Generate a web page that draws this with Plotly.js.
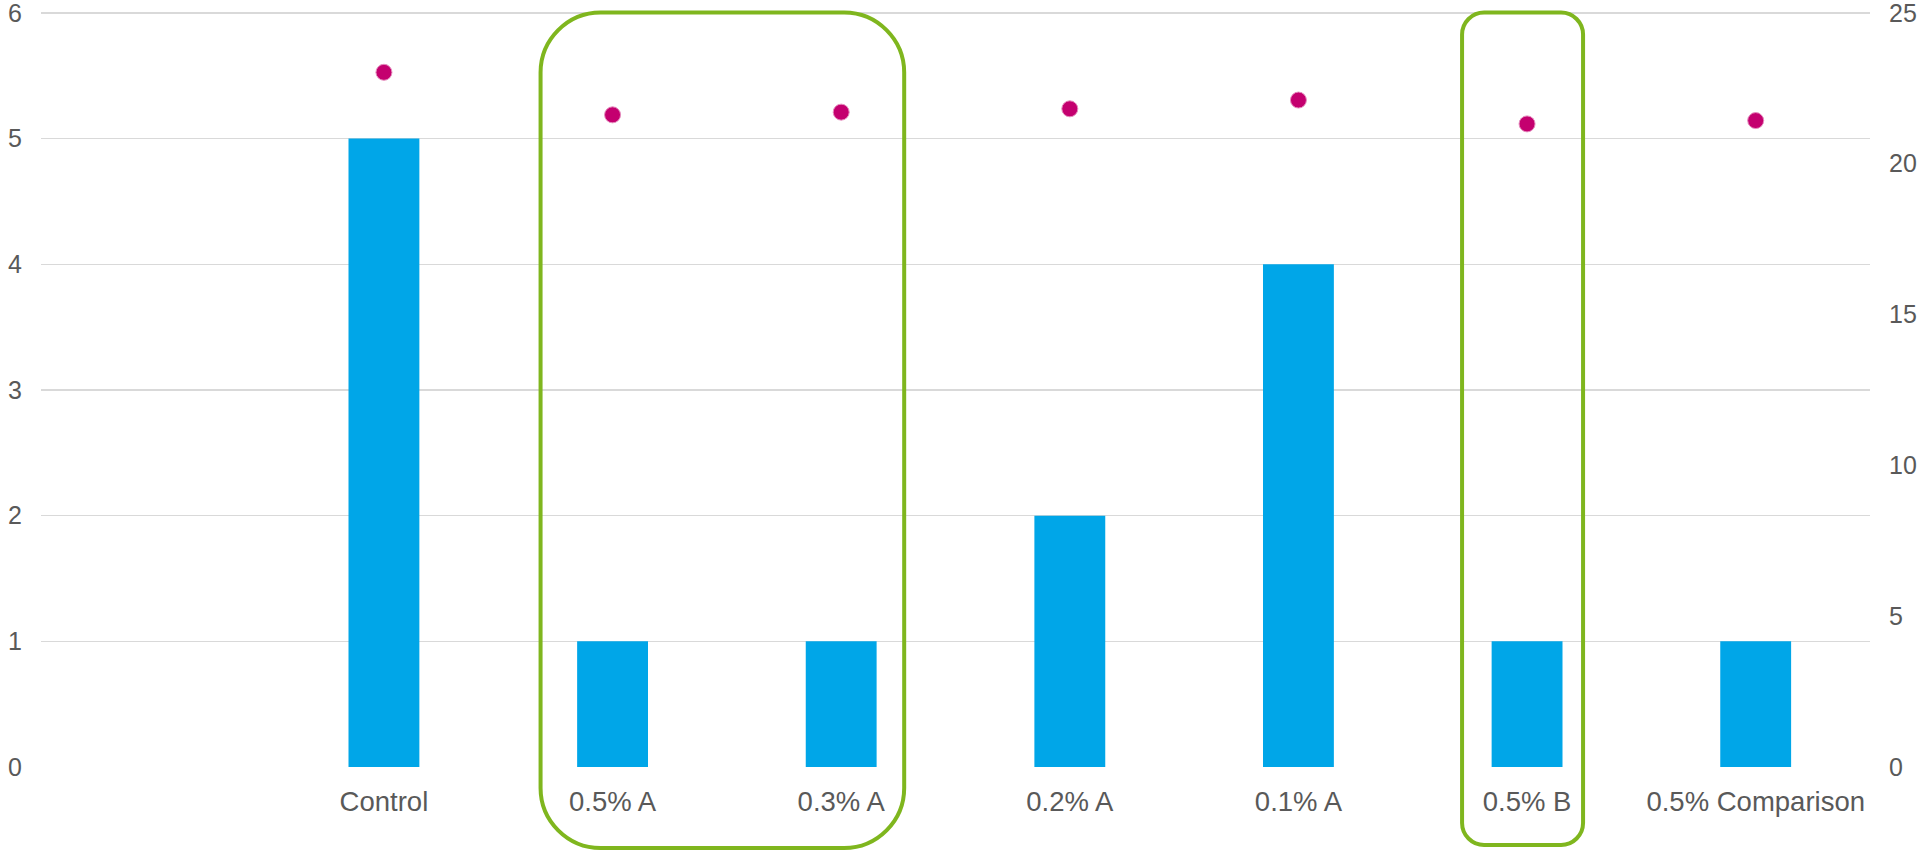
<!DOCTYPE html>
<html>
<head>
<meta charset="utf-8">
<script src="https://cdn.plot.ly/plotly-3.0.1.min.js"></script>
<style>
html,body{margin:0;padding:0;background:#fff;}
#chart{width:1921px;height:851px;}
</style>
</head>
<body>
<div id="chart"></div>
<script>
// ---- data ----
const categories = ['Control', '0.5% A', '0.3% A', '0.2% A', '0.1% A', '0.5% B', '0.5% Comparison'];
const barValues = [5, 1, 1, 2, 4, 1, 1];
const dotValues = [23.03, 21.62, 21.71, 21.82, 22.11, 21.32, 21.43];
const leftTicks = [0, 1, 2, 3, 4, 5, 6];
const rightTicks = [0, 5, 10, 15, 20, 25];
// highlighted groups (first and last category of each box)
const highlightGroups = [['0.5% A', '0.3% A'], ['0.5% B', '0.5% B']];

// ---- layout constants ----
const W = 1921, H = 851;
const headroom = 1.0025;
const margin = {l: 41, r: 51, t: 11, b: 84};
const plotW = W - margin.l - margin.r;
const plotH = H - margin.t - margin.b;
const axisBottomPx = margin.t + plotH;
const xRange = [-1.5, categories.length - 0.5];
const textColor = '#595959';
const fontFam = '"Liberation Sans", Arial, sans-serif';
const leftMax = leftTicks[leftTicks.length - 1];
const rightMax = rightTicks[rightTicks.length - 1];

function catToPaper(v) { return (v - xRange[0]) / (xRange[1] - xRange[0]); }
function pxToPaperY(py) { return (axisBottomPx - py) / plotH; }

function roundedRect(x0, x1, y0, y1, rPx) {
  const rx = rPx / plotW, ry = rPx / plotH, k = 0.45;
  return 'M' + (x0 + rx) + ',' + y1 +
    ' L' + (x1 - rx) + ',' + y1 +
    ' C' + (x1 - rx * k) + ',' + y1 + ' ' + x1 + ',' + (y1 - ry * k) + ' ' + x1 + ',' + (y1 - ry) +
    ' L' + x1 + ',' + (y0 + ry) +
    ' C' + x1 + ',' + (y0 + ry * k) + ' ' + (x1 - rx * k) + ',' + y0 + ' ' + (x1 - rx) + ',' + y0 +
    ' L' + (x0 + rx) + ',' + y0 +
    ' C' + (x0 + rx * k) + ',' + y0 + ' ' + x0 + ',' + (y0 + ry * k) + ' ' + x0 + ',' + (y0 + ry) +
    ' L' + x0 + ',' + (y1 - ry) +
    ' C' + x0 + ',' + (y1 - ry * k) + ' ' + (x0 + rx * k) + ',' + y1 + ' ' + (x0 + rx) + ',' + y1 + ' Z';
}

const boxSpecs = [
  {padL: 72, padR: 63, top: 12.5, bottom: 848, radius: 60},
  {padL: 65, padR: 56, top: 12.5, bottom: 845, radius: 22}
];
const shapes = highlightGroups.map(function (g, i) {
  const s = boxSpecs[i];
  const i0 = categories.indexOf(g[0]);
  const i1 = categories.indexOf(g[1]);
  const x0 = catToPaper(i0) - s.padL / plotW;
  const x1 = catToPaper(i1) + s.padR / plotW;
  return {
    type: 'path', xref: 'paper', yref: 'paper', layer: 'above',
    path: roundedRect(x0, x1, pxToPaperY(s.bottom), pxToPaperY(s.top), s.radius),
    line: {color: '#7FB61E', width: 4}
  };
});

const traces = [
  {
    type: 'bar', x: categories, y: barValues, yaxis: 'y',
    marker: {color: '#00A6E8'}, hoverinfo: 'x+y'
  },
  {
    type: 'scatter', mode: 'markers', x: categories, y: dotValues, yaxis: 'y2',
    marker: {color: '#C4006F', size: 16, line: {color: '#E58DBE', width: 1}},
    cliponaxis: false
  }
];

const layout = {
  width: W, height: H,
  margin: margin,
  paper_bgcolor: '#ffffff', plot_bgcolor: '#ffffff',
  showlegend: false,
  bargap: 0.69,
  font: {family: fontFam, size: 25, color: textColor},
  xaxis: {
    type: 'category', range: xRange, categoryorder: 'array', categoryarray: categories,
    showgrid: false, zeroline: false, showline: false, ticks: '',
    ticklabelstandoff: 15, ticklabeloverflow: 'allow',
    tickfont: {family: fontFam, size: 27.5, color: textColor}
  },
  yaxis: {
    range: [0, leftMax * headroom], tickvals: leftTicks, ticktext: leftTicks.map(String),
    showgrid: true, gridcolor: '#D9D9D9', gridwidth: 1.5,
    zeroline: false, showline: false, ticks: '',
    ticklabelstandoff: 18, ticklabeloverflow: 'allow',
    tickfont: {family: fontFam, size: 25, color: textColor}
  },
  yaxis2: {
    range: [0, rightMax * headroom], tickvals: rightTicks, ticktext: rightTicks.map(String),
    overlaying: 'y', side: 'right', showgrid: false, zeroline: false, showline: false,
    ticks: '', ticklabelstandoff: 18, ticklabeloverflow: 'allow',
    tickfont: {family: fontFam, size: 25, color: textColor}
  },
  shapes: shapes
};

Plotly.newPlot('chart', traces, layout, {displayModeBar: false, staticPlot: true});
</script>
</body>
</html>
